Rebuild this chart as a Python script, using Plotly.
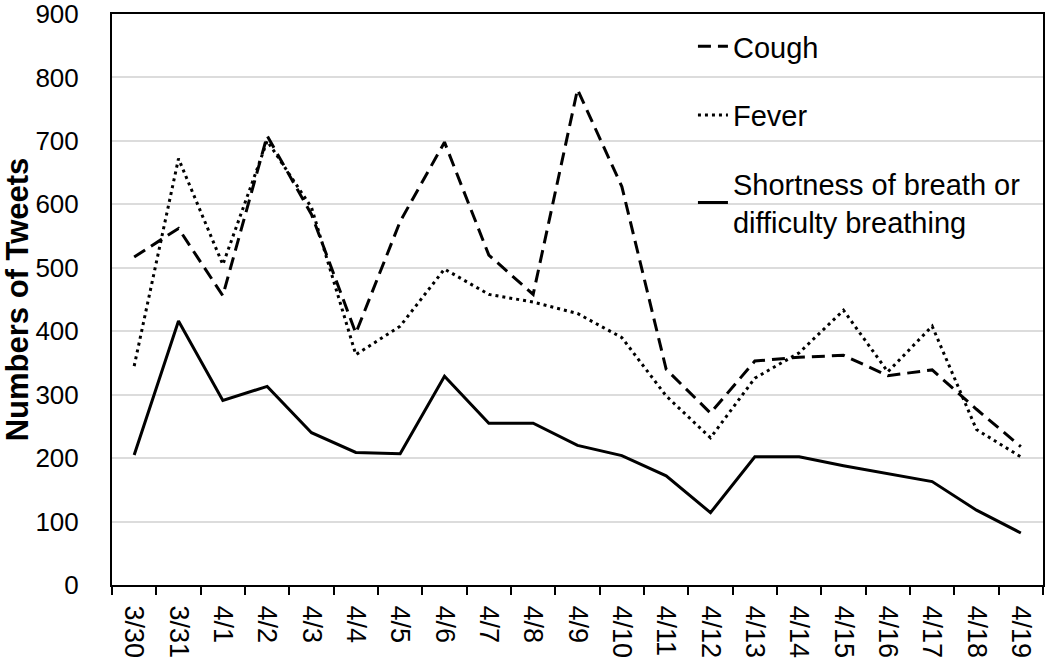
import plotly.graph_objects as go

dates = ["3/30", "3/31", "4/1", "4/2", "4/3", "4/4", "4/5", "4/6", "4/7", "4/8", "4/9",
         "4/10", "4/11", "4/12", "4/13", "4/14", "4/15", "4/16", "4/17", "4/18", "4/19"]
cough = [517, 562, 456, 708, 584, 397, 573, 698, 520, 458, 781,
         628, 340, 271, 353, 359, 362, 330, 339, 277, 218]
fever = [345, 672, 505, 700, 595, 363, 408, 498, 458, 446, 428,
         390, 298, 232, 326, 366, 433, 336, 408, 245, 202]
breath = [205, 416, 291, 313, 240, 209, 207, 329, 255, 255, 220,
          204, 172, 114, 202, 202, 188, 175, 163, 118, 82]

series_names = ["Cough", "Fever", "Shortness of breath or<br>difficulty breathing"]

fig = go.Figure()
fig.add_trace(go.Scatter(x=dates, y=cough, mode="lines", name=series_names[0],
                         line=dict(color="black", width=3, dash="13px,7px"), legendgroup="a"))
fig.add_trace(go.Scatter(x=dates, y=fever, mode="lines", name=series_names[1],
                         line=dict(color="black", width=3, dash="3px,4px"), legendgroup="b"))
fig.add_trace(go.Scatter(x=dates, y=breath, mode="lines", name=series_names[2],
                         line=dict(color="black", width=3), legendgroup="c"))

font_family = "Liberation Sans, Arial, sans-serif"
fig.update_layout(
    width=1050, height=661,
    margin=dict(l=112, r=7, t=14, b=76, autoexpand=False),
    paper_bgcolor="white", plot_bgcolor="white",
    font=dict(family=font_family, size=26, color="black"),
    showlegend=True,
    legend=dict(x=0.624, y=0.988, xanchor="left", yanchor="top",
                bgcolor="rgba(0,0,0,0)", borderwidth=0,
                font=dict(size=29, color="black"),
                tracegroupgap=28, traceorder="grouped", itemwidth=30),
    xaxis=dict(type="category", range=[-0.5, 20.5], tickangle=90, automargin=False,
               showline=True, linecolor="black", linewidth=2, mirror=True,
               ticks="outside", ticklen=8, tickwidth=2, tickcolor="black",
               tickson="boundaries", showgrid=False, ticklabelstandoff=13,
               ticklabeloverflow="allow",
               tickfont=dict(size=27, color="black")),
    yaxis=dict(range=[0, 900], dtick=100, showline=True, linecolor="black", automargin=False,
               linewidth=2, mirror=True, ticks="", showgrid=True,
               gridcolor="#dcdcdc", gridwidth=1.5, zeroline=False,
               ticklabelstandoff=26, ticklabeloverflow="allow",
               tickfont=dict(size=26, color="black"),
               title=dict(text="<b>Numbers of Tweets</b>", font=dict(size=31, color="black"),
                          standoff=14)),
)

# remove the default 8px page margin so the figure fills the window exactly
fig.write_html("out.html", config={"displayModeBar": False},
               post_script="document.body.style.margin='0';")
